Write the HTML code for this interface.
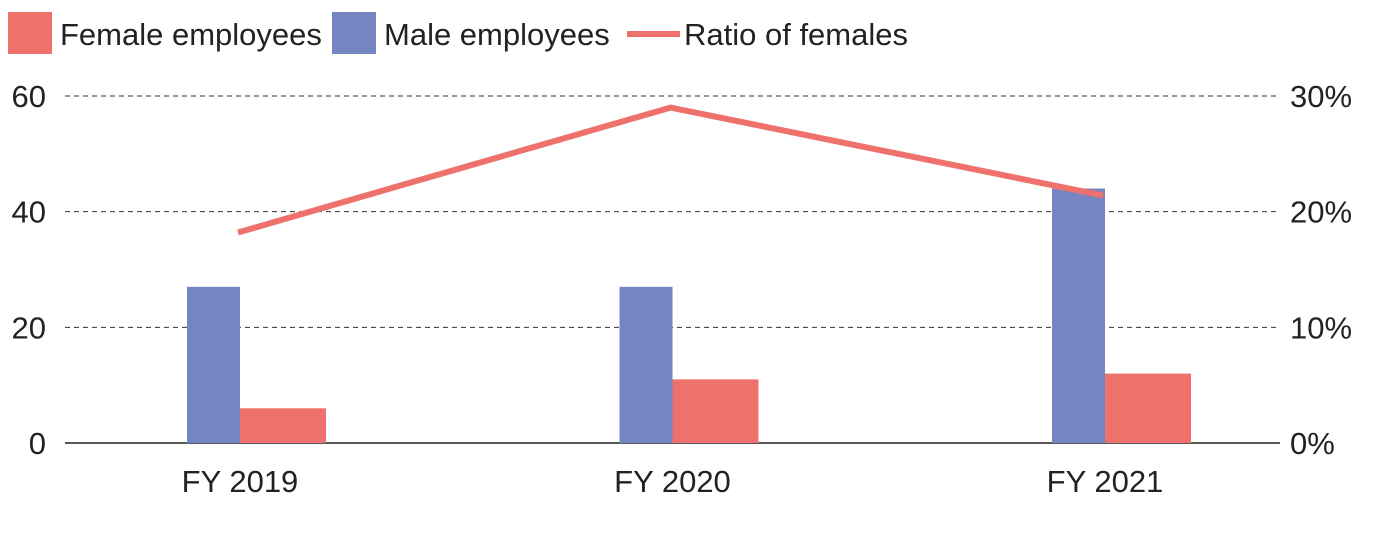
<!DOCTYPE html>
<html><head><meta charset="utf-8"><style>
body{margin:0;background:#fff;width:1390px;height:528px;overflow:hidden}
svg{font-family:"Liberation Sans Narrow","Liberation Sans",sans-serif;}
text{fill:#222;font-size:31px}
</style></head><body>
<svg id="c" width="1390" height="528">
<g>
<rect x="8" y="12" width="44" height="42" fill="#ee716c"/>
<text x="60" y="45">Female employees</text>
<rect x="332" y="12" width="44" height="42" fill="#7585c1"/>
<text x="384" y="45">Male employees</text>
<line x1="627" y1="34" x2="680" y2="34" stroke="#ee716c" stroke-width="6"/>
<text x="684" y="45">Ratio of females</text>
</g>
<g id="grid"></g><g id="bars"></g><g id="line"></g><g id="labels"></g>
</svg>
<script>
const categories=["FY 2019","FY 2020","FY 2021"];
const maleValues=[27,27,44];
const femaleValues=[6,11,12];
const ratioValues=[18.2,29.0,21.4];
const leftTicks=[0,20,40,60];
const rightTicks=["0%","10%","20%","30%"];
const NS="http://www.w3.org/2000/svg";
const y0=443,y60=96;
const yL=v=>y0-(v/60)*(y0-y60);
const yR=v=>y0-(v/30)*(y0-y60);
const xC=i=>240+i*432.5;
function mk(t,a,p){const e=document.createElementNS(NS,t);for(const k in a)e.setAttribute(k,a[k]);document.getElementById(p).appendChild(e);return e;}
leftTicks.forEach((v,i)=>{
 const y=yL(v);
 if(v>0){const g=mk("line",{x1:65,x2:1280,y1:y,y2:y,stroke:"#333","stroke-width":1,"stroke-dasharray":"5,4"},"grid");
 
 }
 const t=mk("text",{x:46,y:y+11,"text-anchor":"end"},"labels");t.textContent=v;
 
 
 const r=mk("text",{x:1290,y:y+11},"labels");r.textContent=rightTicks[i];
 
 
});
categories.forEach((c,i)=>{
 const x=xC(i);
 const m=mk("rect",{x:x-53,y:yL(maleValues[i]),width:53,height:y0-yL(maleValues[i]),fill:"#7585c1"},"bars");
 
 
 const f=mk("rect",{x:x,y:yL(femaleValues[i]),width:86,height:y0-yL(femaleValues[i]),fill:"#ee716c"},"bars");
 
 
 const t=mk("text",{x:x,y:492,"text-anchor":"middle"},"labels");t.textContent=c;
 
 
});
const ax=mk("line",{x1:65,x2:1280,y1:y0,y2:y0,stroke:"#222","stroke-width":1.5},"grid");


const pl=mk("polyline",{points:ratioValues.map((v,i)=>(xC(i)-2)+","+yR(v)).join(" "),fill:"none",stroke:"#ee716c","stroke-width":6},"line");


</script>
</body></html>
